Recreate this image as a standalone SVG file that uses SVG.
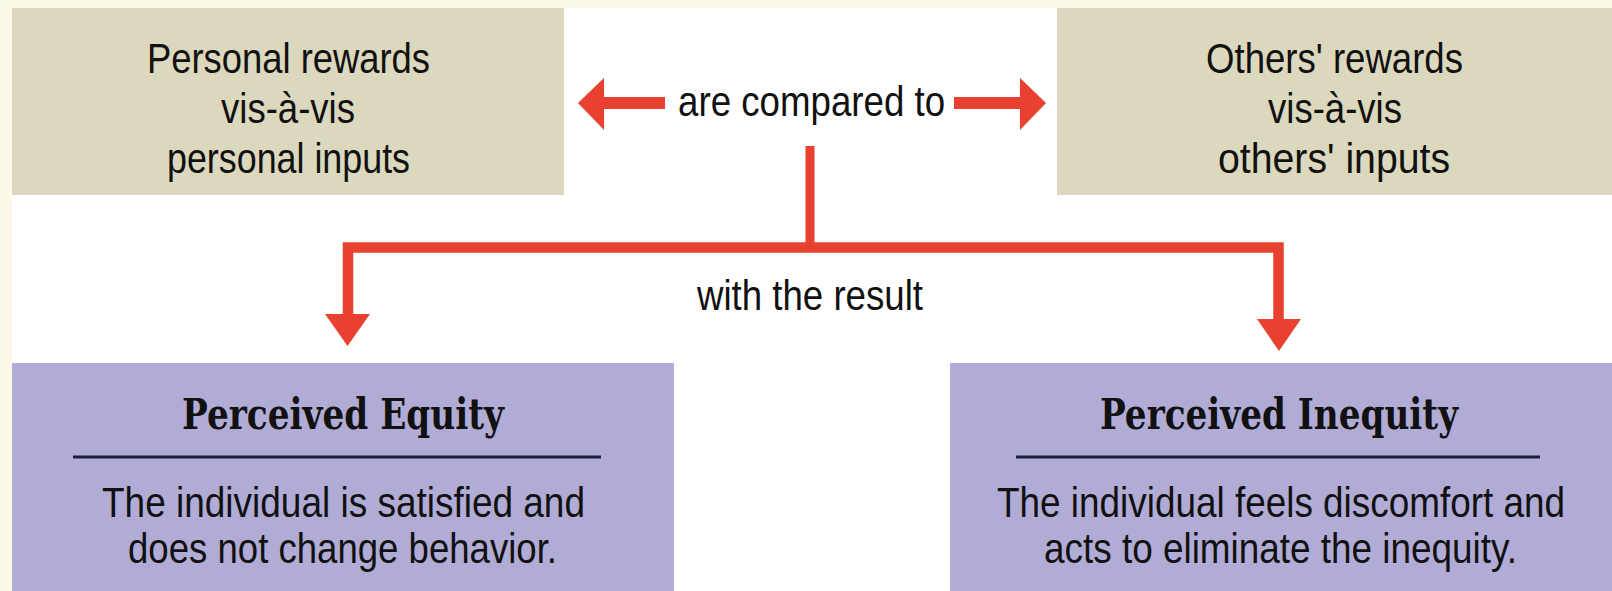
<svg xmlns="http://www.w3.org/2000/svg" width="1612" height="591" viewBox="0 0 1612 591">
<style>
.sans{font-family:"Liberation Sans",Arial,Helvetica,sans-serif;font-size:42px;fill:#111}
.title{font-family:"DejaVu Serif","Liberation Serif",serif;font-weight:bold;font-size:43px;fill:#111}
.tan{fill:#dcd8bd}
.purple{fill:#b1acd6}
.rule{stroke:#1c1c36;stroke-width:3}
.red{fill:#e8412f}
.redline{stroke:#e8412f;fill:none;stroke-linejoin:miter}
</style>
<rect x="0" y="0" width="1612" height="591" fill="#ffffff"/>
<rect x="0" y="0" width="1612" height="8" fill="#fcfae6"/>
<rect x="0" y="0" width="12" height="591" fill="#fcfae6"/>

<g id="personal">
<rect class="tan" x="12" y="8" width="552" height="187"/>
<text class="sans" transform="translate(288.5 73) scale(0.86 1)" x="-164.5" y="0" textLength="329" lengthAdjust="spacingAndGlyphs">Personal rewards</text>
<text class="sans" transform="translate(288 123) scale(0.86 1)" x="-77.9" y="0" textLength="155.8" lengthAdjust="spacingAndGlyphs">vis-à-vis</text>
<text class="sans" transform="translate(288.5 173) scale(0.86 1)" x="-141.3" y="0" textLength="282.6" lengthAdjust="spacingAndGlyphs">personal inputs</text>
</g>

<g id="others">
<rect class="tan" x="1057" y="8" width="555" height="187"/>
<text class="sans" transform="translate(1334.5 73) scale(0.86 1)" x="-149.4" y="0" textLength="298.8" lengthAdjust="spacingAndGlyphs">Others' rewards</text>
<text class="sans" transform="translate(1335 123) scale(0.86 1)" x="-77.9" y="0" textLength="155.8" lengthAdjust="spacingAndGlyphs">vis-à-vis</text>
<text class="sans" transform="translate(1334 173) scale(0.86 1)" x="-134.9" y="0" textLength="269.8" lengthAdjust="spacingAndGlyphs">others' inputs</text>
</g>

<g id="equity">
<rect class="purple" x="12" y="363" width="662" height="228"/>
<text class="title" transform="translate(343 429) scale(0.8 1)" x="-201.2" y="0" textLength="402.5" lengthAdjust="spacingAndGlyphs">Perceived Equity</text>
<line class="rule" x1="73" y1="457" x2="601" y2="457"/>
<text class="sans" transform="translate(343.5 517) scale(0.86 1)" x="-280.8" y="0" textLength="561.6" lengthAdjust="spacingAndGlyphs">The individual is satisfied and</text>
<text class="sans" transform="translate(342.5 563) scale(0.86 1)" x="-249.4" y="0" textLength="498.8" lengthAdjust="spacingAndGlyphs">does not change behavior.</text>
</g>

<g id="inequity">
<rect class="purple" x="950" y="363" width="662" height="228"/>
<text class="title" transform="translate(1279 429) scale(0.8 1)" x="-223.7" y="0" textLength="447.5" lengthAdjust="spacingAndGlyphs">Perceived Inequity</text>
<line class="rule" x1="1016" y1="457" x2="1540" y2="457"/>
<text class="sans" transform="translate(1281 517) scale(0.86 1)" x="-330.2" y="0" textLength="660.5" lengthAdjust="spacingAndGlyphs">The individual feels discomfort and</text>
<text class="sans" transform="translate(1280.5 563) scale(0.86 1)" x="-275" y="0" textLength="550" lengthAdjust="spacingAndGlyphs">acts to eliminate the inequity.</text>
</g>

<g id="connectors">
<rect class="red" x="602" y="97" width="63" height="12"/>
<polygon class="red" points="578,103 604,78 604,130"/>
<rect class="red" x="954" y="97" width="68" height="12"/>
<polygon class="red" points="1046,103 1020,78 1020,130"/>
<path class="redline" stroke-width="9" d="M810,146 V248"/>
<path class="redline" stroke-width="10.5" d="M348,316 V247.5 H1278.5 V321"/>
<polygon class="red" points="325,314 370,314 347.5,346"/>
<polygon class="red" points="1257,319 1301,319 1279,351"/>
<text class="sans" transform="translate(811.5 116) scale(0.86 1)" x="-155.2" y="0" textLength="310.5" lengthAdjust="spacingAndGlyphs">are compared to</text>
<text class="sans" transform="translate(810 310) scale(0.86 1)" x="-131.4" y="0" textLength="262.8" lengthAdjust="spacingAndGlyphs">with the result</text>
</g>
</svg>
